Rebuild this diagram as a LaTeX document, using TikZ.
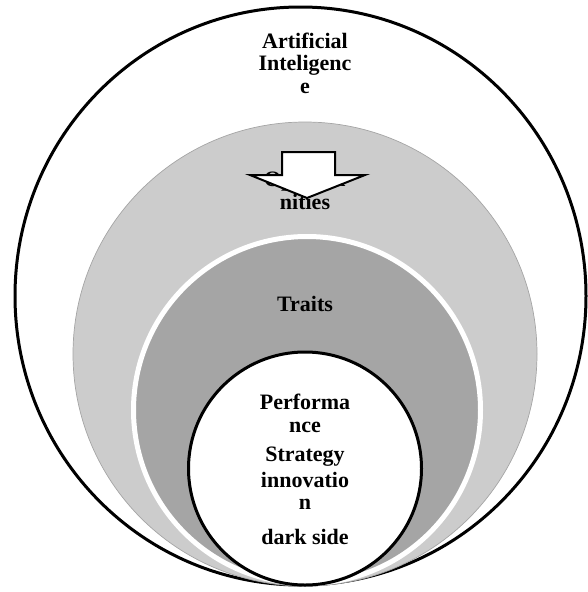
\documentclass[tikz,border=0pt]{standalone}
\usepackage{fontspec}
\setmainfont{Liberation Serif}
\definecolor{ringlight}{RGB}{204,204,204}
\definecolor{ringedge}{RGB}{165,165,165}
\definecolor{ringdark}{RGB}{165,165,165}
\begin{document}
\begin{tikzpicture}[x=1pt, y=-1pt, lbl/.style={font=\bfseries\fontsize{22}{22.5}\selectfont, align=center, inner sep=0pt}]
\useasboundingbox (0,0) rectangle (587,592);
\draw [line width=3pt] (300.5,296) ellipse [x radius=285.5, y radius=289];
\draw [fill=ringlight, draw=ringedge, line width=.7pt] (305,354) circle [radius=232];
\draw [fill=ringdark, draw=white, line width=5pt] (307,410) circle [radius=173.5];
\draw [fill=white, line width=3pt] (305,468.5) circle [radius=116.5];
\node [lbl, anchor=base] (ai) at (305,93) {Artificial\\Inteligenc\\e};
\node [lbl, anchor=base] (opp) at (305,209) {Opportu\\nities};
\node [lbl, anchor=base] (traits) at (305,311) {Traits};
\node [lbl, anchor=base] (perf) at (305,544) {Performa\\nce\\[7pt]Strategy\\[3pt]innovatio\\n\\[12pt]dark side};
\draw [fill=white, line width=2pt] (282,152) -- (335,152) -- (335,175) -- (365,175) -- (307,198) -- (250,175) -- (282,175) -- cycle;
\end{tikzpicture}
\end{document}
